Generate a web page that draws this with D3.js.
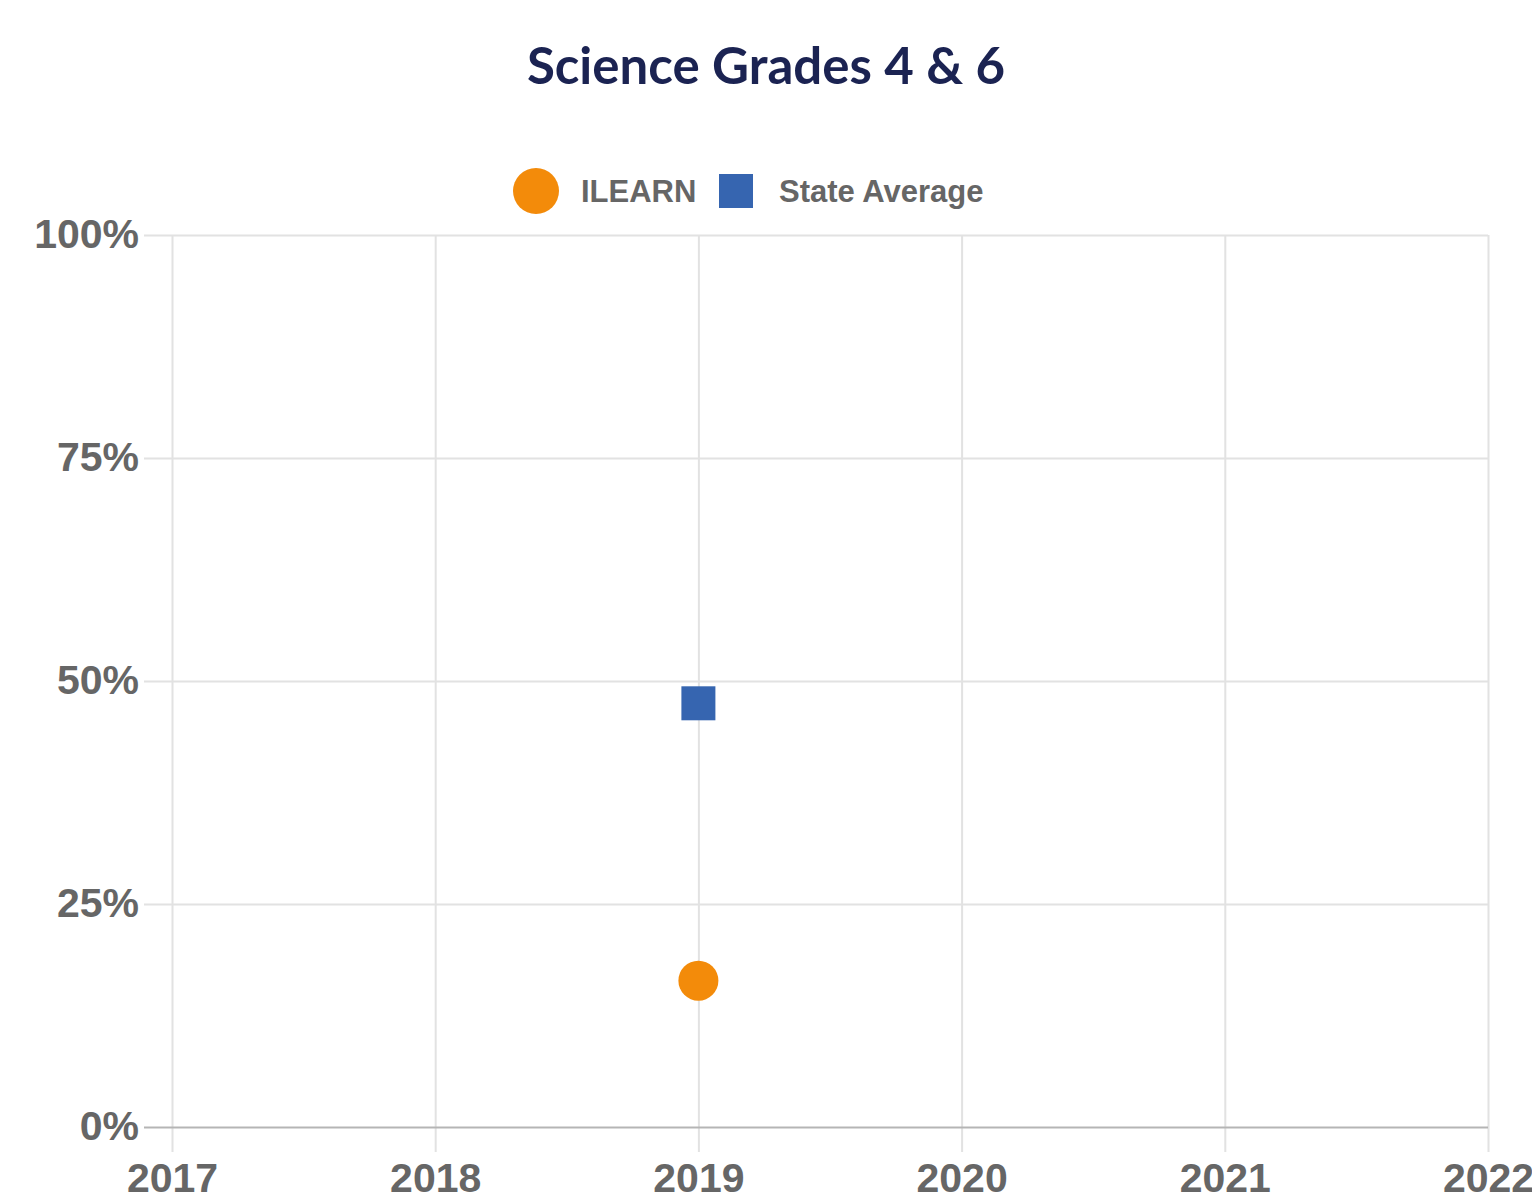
<!DOCTYPE html>
<html>
<head>
<meta charset="utf-8">
<script src="https://cdn.jsdelivr.net/npm/d3@7"></script>
<style>
  body { margin: 0; background: #fff; }
  #canvas { width: 1532px; height: 1202px; }
</style>
</head>
<body>
<div id="canvas" class="canvas"></div>
<script>
// data
var years = [2017, 2018, 2019, 2020, 2021, 2022];
var yTicks = [0, 25, 50, 75, 100];
var ilearn = [{year: 2019, value: 16.4}];
var stateAvg = [{year: 2019, value: 47.5}];
var seriesNames = ['ILEARN', 'State Average'];

var W = 1532, H = 1202;
var m = {t: 235, r: 44, b: 75, l: 172};
var w = W - m.l - m.r,
    h = H - m.t - m.b;

var svg = d3.select('.canvas')
    .append('svg')
    .attr('width', W)
    .attr('height', H);

// title
svg.append('text')
    .attr('x', 766)
    .attr('y', 84)
    .attr('text-anchor', 'middle')
    .style('font-family', 'Lato, sans-serif')
    .style('font-weight', 700)
    .style('font-size', '51px')
    .style('fill', '#1b2352')
    .text('Science Grades 4 & 6');

var plot = svg.append('g')
    .attr('transform', 'translate(' + m.l + ',' + m.t + ')');

var scaleX = d3.scaleLinear()
    .domain([2017, 2022])
    .range([0, w]);

var scaleY = d3.scaleLinear()
    .domain([0, 100])
    .range([h, 0]);

var labelFont = 'Liberation Sans, Arial, sans-serif';

// vertical grid + x labels
var axisX = d3.axisBottom(scaleX)
    .tickValues(years)
    .tickSize(-h)
    .tickFormat(d3.format('d'));

var gx = plot.append('g')
    .attr('transform', 'translate(0,' + h + ')')
    .call(axisX);
gx.select('.domain').remove();
gx.selectAll('.tick line')
    .attr('y1', 25)
    .attr('y2', -h)
    .attr('stroke', '#e2e2e2')
    .attr('stroke-width', 2);
gx.selectAll('.tick text')
    .attr('y', 65)
    .attr('dy', 0)
    .style('font-family', labelFont)
    .style('font-weight', 'bold')
    .style('font-size', '41px')
    .style('fill', '#666');

// horizontal grid + y labels
var axisY = d3.axisLeft(scaleY)
    .tickValues(yTicks)
    .tickSize(-w)
    .tickFormat(function(d){ return d + '%'; });

var gy = plot.append('g').call(axisY);
gy.select('.domain').remove();
gy.selectAll('.tick line')
    .attr('x1', -28)
    .attr('stroke', function(d){ return d === 0 ? '#b5b5b5' : '#e2e2e2'; })
    .attr('stroke-width', 2);
gy.selectAll('.tick text')
    .attr('x', -33)
    .attr('dy', '0.3em')
    .style('font-family', labelFont)
    .style('font-weight', 'bold')
    .style('font-size', '41px')
    .style('fill', '#666');

// points
plot.selectAll('.state')
    .data(stateAvg)
    .enter()
    .append('rect')
    .attr('class', 'state')
    .attr('x', function(d){ return scaleX(d.year) - 17; })
    .attr('y', function(d){ return scaleY(d.value) - 17; })
    .attr('width', 34)
    .attr('height', 34)
    .attr('fill', '#3665b0');

plot.selectAll('.ilearn')
    .data(ilearn)
    .enter()
    .append('circle')
    .attr('class', 'ilearn')
    .attr('cx', function(d){ return scaleX(d.year); })
    .attr('cy', function(d){ return scaleY(d.value); })
    .attr('r', 20)
    .attr('fill', '#f38b0a');

// legend
var legend = svg.append('g');
legend.append('circle')
    .attr('cx', 536).attr('cy', 191).attr('r', 23)
    .attr('fill', '#f38b0a');
legend.append('text')
    .attr('x', 581).attr('y', 202)
    .style('font-family', labelFont)
    .style('font-weight', 'bold')
    .style('font-size', '31px')
    .style('fill', '#666')
    .text(seriesNames[0]);
legend.append('rect')
    .attr('x', 719).attr('y', 174).attr('width', 34).attr('height', 34)
    .attr('fill', '#3665b0');
legend.append('text')
    .attr('x', 779).attr('y', 202)
    .style('font-family', labelFont)
    .style('font-weight', 'bold')
    .style('font-size', '31px')
    .style('fill', '#666')
    .text(seriesNames[1]);
</script>
</body>
</html>
